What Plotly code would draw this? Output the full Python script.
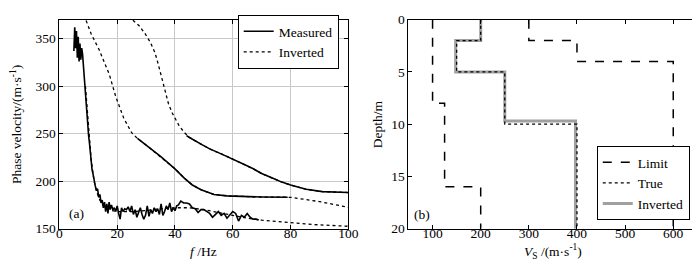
import plotly.graph_objects as go

# ---------------- (a) dispersion curves ----------------
meas0_f = [5.0, 5.3, 5.6, 5.9, 6.2, 6.5, 6.8, 7.1, 7.4, 7.7, 8.0, 8.3, 8.6, 8.9, 9.2, 9.5, 9.8,
           10.1, 10.4, 10.7, 11.0, 11.3, 11.6, 12.0, 12.4, 12.8, 13.2, 13.6, 14.0, 14.4, 14.8,
           15.2, 15.6, 16.0, 16.4, 16.8, 17.2, 17.6, 18.0, 18.5, 19.0, 19.5, 20.0, 20.5, 21.0,
           21.5, 22.0, 22.6, 23.2, 23.8, 24.4, 25.0, 25.6, 26.2, 26.8, 27.4, 28.0, 28.6, 29.2,
           29.8, 30.4, 31.0, 31.6, 32.2, 32.8, 33.4, 34.0, 34.6, 35.2, 35.8, 36.4, 37.0, 37.6,
           38.2, 38.8, 39.4, 40.0, 40.6, 41.2, 42.0, 43.0, 44.0, 45.0, 46.0, 47.0, 48.0, 49.0,
           50.0, 51.0, 52.0, 53.0, 54.0, 55.0, 56.0, 57.0, 58.0, 59.0, 60.0, 61.0, 62.0, 63.0,
           64.0, 65.0, 66.0, 67.0, 68.0, 69.0]
meas0_v = [337, 362, 340, 358, 330, 352, 326, 345, 328, 340, 334, 320, 310, 300, 285, 268, 255,
           248, 240, 228, 218, 212, 208, 200, 195, 190, 192, 183, 186, 177, 180,
           172, 178, 168, 176, 166, 178, 170, 175, 170, 172, 168, 174, 166, 160,
           172, 168, 171, 170, 173, 168, 174, 165, 170, 162, 167, 172, 165, 160,
           164, 174, 163, 170, 166, 172, 168, 171, 165, 176, 164, 168, 174, 170,
           177, 168, 172, 169, 174, 175, 179, 177, 177, 176, 172, 171, 167, 170,
           170, 168, 166, 162, 165, 168, 164, 166, 161, 165, 168, 166, 158, 164,
           162, 166, 162, 160, 160, 159]

inv0_f = [9, 10, 11, 12, 13, 14, 15, 16, 18, 20, 25, 30, 35, 40, 45, 50, 55, 60, 65, 70,
          75, 80, 85, 90, 95, 100]
inv0_v = [300, 258, 222, 200, 188, 180, 175, 172, 169, 168, 168, 169, 171, 172, 172, 170,
          167, 164, 161, 159, 157.5, 156, 155, 154, 153.2, 152.5]

inv1_f = [8.5, 9.1, 11, 13.8, 15.5, 17.3, 19.5, 22.3, 25, 27, 30, 32, 35, 37.7, 40, 43.3, 46,
          49, 53.5, 58, 62.6, 70, 80, 85, 90, 95, 100]
inv1_v = [375, 370, 355, 338, 326, 312, 289, 266, 251, 245, 238, 233, 226, 219, 213, 203, 196,
          191, 186, 184.5, 183.8, 183.3, 183, 181, 178.5, 175.5, 172.5]

meas1_f = [27, 30, 32, 35, 37.7, 40, 43.3, 46, 49, 53.5, 58, 62.6, 70, 79]
meas1_v = [245, 238, 233, 226, 219, 213, 203, 196, 191, 186, 184.5, 183.8, 183.3, 183]

inv2_f = [24.5, 25.2, 27.5, 29.7, 31.5, 33.1, 34.3, 35.4, 36.5, 37.7, 39, 40, 41.5, 43.3, 45,
          49, 52, 55.8, 60.3, 64, 67.1, 70, 73.9, 77, 80, 85.4, 91, 95, 100]
inv2_v = [375, 370, 364, 355, 346, 335, 322, 309, 295, 282, 272, 266, 258, 251, 246,
          239, 234, 229, 223, 217.5, 213, 208, 203, 199, 196, 191.4, 189, 188.5, 188]

meas2_f = [44, 45, 49, 52, 55.8, 60.3, 64, 67.1, 70, 73.9, 77, 80, 85.4, 91, 95, 100]
meas2_v = [248, 246, 239, 234, 229, 223, 217.5, 213, 208, 203, 199, 196, 191.4, 189, 188.5, 188]

# ---------------- (b) Vs profiles ----------------
limit_lo_vs = [100, 100, 125, 125, 200, 200]
limit_lo_z = [0, 8, 8, 16, 16, 20]
limit_hi_vs = [300, 300, 400, 400, 600, 600]
limit_hi_z = [0, 2, 2, 4, 4, 20]
true_vs = [200, 200, 150, 150, 250, 250, 400, 400]
true_z = [0, 2, 2, 5, 5, 10, 10, 20]
inv_vs = [200, 200, 148, 148, 250, 250, 397, 397]
inv_z = [0, 2, 2, 5, 5, 9.7, 9.7, 20]

FONT = "'Liberation Serif', 'Times New Roman', Times, serif"
FS = 13.5
BLACK = "#000000"

fig = go.Figure()

dot = dict(color=BLACK, width=1.3, dash="dot")
solid = dict(color=BLACK, width=1.6)

# panel (a)
fig.add_trace(go.Scatter(x=inv0_f, y=inv0_v, mode="lines", line=dot, showlegend=False, xaxis="x", yaxis="y"))
fig.add_trace(go.Scatter(x=inv1_f, y=inv1_v, mode="lines", line=dot, showlegend=False, xaxis="x", yaxis="y"))
fig.add_trace(go.Scatter(x=inv2_f, y=inv2_v, mode="lines", line=dot, showlegend=False, xaxis="x", yaxis="y"))
fig.add_trace(go.Scatter(x=meas0_f, y=meas0_v, mode="lines", line=solid,
                         name="Measured", legend="legend", legendrank=1, xaxis="x", yaxis="y"))
fig.add_trace(go.Scatter(x=meas1_f, y=meas1_v, mode="lines", line=solid, showlegend=False, xaxis="x", yaxis="y"))
fig.add_trace(go.Scatter(x=meas2_f, y=meas2_v, mode="lines", line=solid, showlegend=False, xaxis="x", yaxis="y"))
fig.add_trace(go.Scatter(x=[None], y=[None], mode="lines", line=dot,
                         name="Inverted", legend="legend", legendrank=2, xaxis="x", yaxis="y"))

# panel (b)
fig.add_trace(go.Scatter(x=limit_lo_vs, y=limit_lo_z, mode="lines", line=dict(color=BLACK, width=1.5, dash="dash"),
                         name="Limit", legend="legend2", legendrank=1, xaxis="x2", yaxis="y2"))
fig.add_trace(go.Scatter(x=limit_hi_vs, y=limit_hi_z, mode="lines", line=dict(color=BLACK, width=1.5, dash="dash"),
                         showlegend=False, xaxis="x2", yaxis="y2"))
fig.add_trace(go.Scatter(x=inv_vs, y=inv_z, mode="lines", line=dict(color="#a0a0a0", width=3),
                         name="Inverted", legend="legend2", legendrank=3, xaxis="x2", yaxis="y2"))
fig.add_trace(go.Scatter(x=true_vs, y=true_z, mode="lines", line=dot,
                         name="True", legend="legend2", legendrank=2, xaxis="x2", yaxis="y2"))

tfont = dict(family=FONT, size=FS, color=BLACK)
axis_common = dict(showline=True, linecolor=BLACK, linewidth=1, mirror="ticks", ticks="inside",
                   ticklen=4, tickcolor=BLACK, tickfont=tfont,
                   zeroline=False, ticklabeloverflow="allow")

XD1 = [0.0705, 0.491]
XD2 = [0.5786, 0.999]
YD = [0.135, 0.981]
ymid = (YD[0] + YD[1]) / 2
ytitle = 1 - 251 / 262

fig.update_layout(
    width=700, height=262,
    margin=dict(l=0, r=0, t=0, b=0),
    paper_bgcolor="white", plot_bgcolor="white",
    font=tfont,
    xaxis=dict(domain=XD1, range=[0, 100], tickvals=[0, 20, 40, 60, 80, 100],
               showgrid=True, gridcolor="#c8c8c8", gridwidth=1, ticklabelstandoff=-8,
               anchor="y", **axis_common),
    yaxis=dict(domain=YD, range=[150, 370], tickvals=[150, 200, 250, 300, 350],
               showgrid=True, gridcolor="#c8c8c8", gridwidth=1,
               anchor="x", **axis_common),
    xaxis2=dict(domain=XD2, range=[50, 650], tickvals=[100, 200, 300, 400, 500, 600],
                showgrid=False, ticklabelstandoff=-8,
                anchor="y2", **axis_common),
    yaxis2=dict(domain=YD, range=[20, 0], tickvals=[0, 5, 10, 15, 20],
                showgrid=False,
                anchor="x2", **axis_common),
    legend=dict(x=0.477, y=1.0, xanchor="right", yanchor="top", bgcolor="white",
                bordercolor=BLACK, borderwidth=1, font=tfont,
                tracegroupgap=0, itemwidth=30),
    legend2=dict(x=0.988, y=0.17, xanchor="right", yanchor="bottom", bgcolor="white",
                 bordercolor=BLACK, borderwidth=1, font=tfont,
                 tracegroupgap=0, itemwidth=30),
    annotations=[
        dict(text="(a)", x=2.5, y=166, xref="x", yref="y", showarrow=False, xanchor="left",
             font=tfont),
        dict(text="(b)", x=57, y=18.6, xref="x2", yref="y2", showarrow=False, xanchor="left",
             font=tfont),
        # axis titles
        dict(text="<i>f</i> /Hz", x=sum(XD1) / 2, y=ytitle, xref="paper", yref="paper",
             xanchor="center", yanchor="middle", showarrow=False, font=tfont),
        dict(text="Phase velocity/(m·s<sup>-1</sup>)", x=5 / 700, y=ymid, xref="paper", yref="paper",
             xanchor="center", yanchor="middle", textangle=-90, showarrow=False, font=tfont),
        dict(text="<i>V</i><sub>S</sub> /(m·s<sup>-1</sup>)", x=sum(XD2) / 2, y=ytitle,
             xref="paper", yref="paper", xanchor="center", yanchor="middle", showarrow=False,
             font=tfont),
        dict(text="Depth/m", x=373 / 700, y=ymid, xref="paper", yref="paper",
             xanchor="center", yanchor="middle", textangle=-90, showarrow=False, font=tfont),
    ],
)

fig.write_html("out.html")
